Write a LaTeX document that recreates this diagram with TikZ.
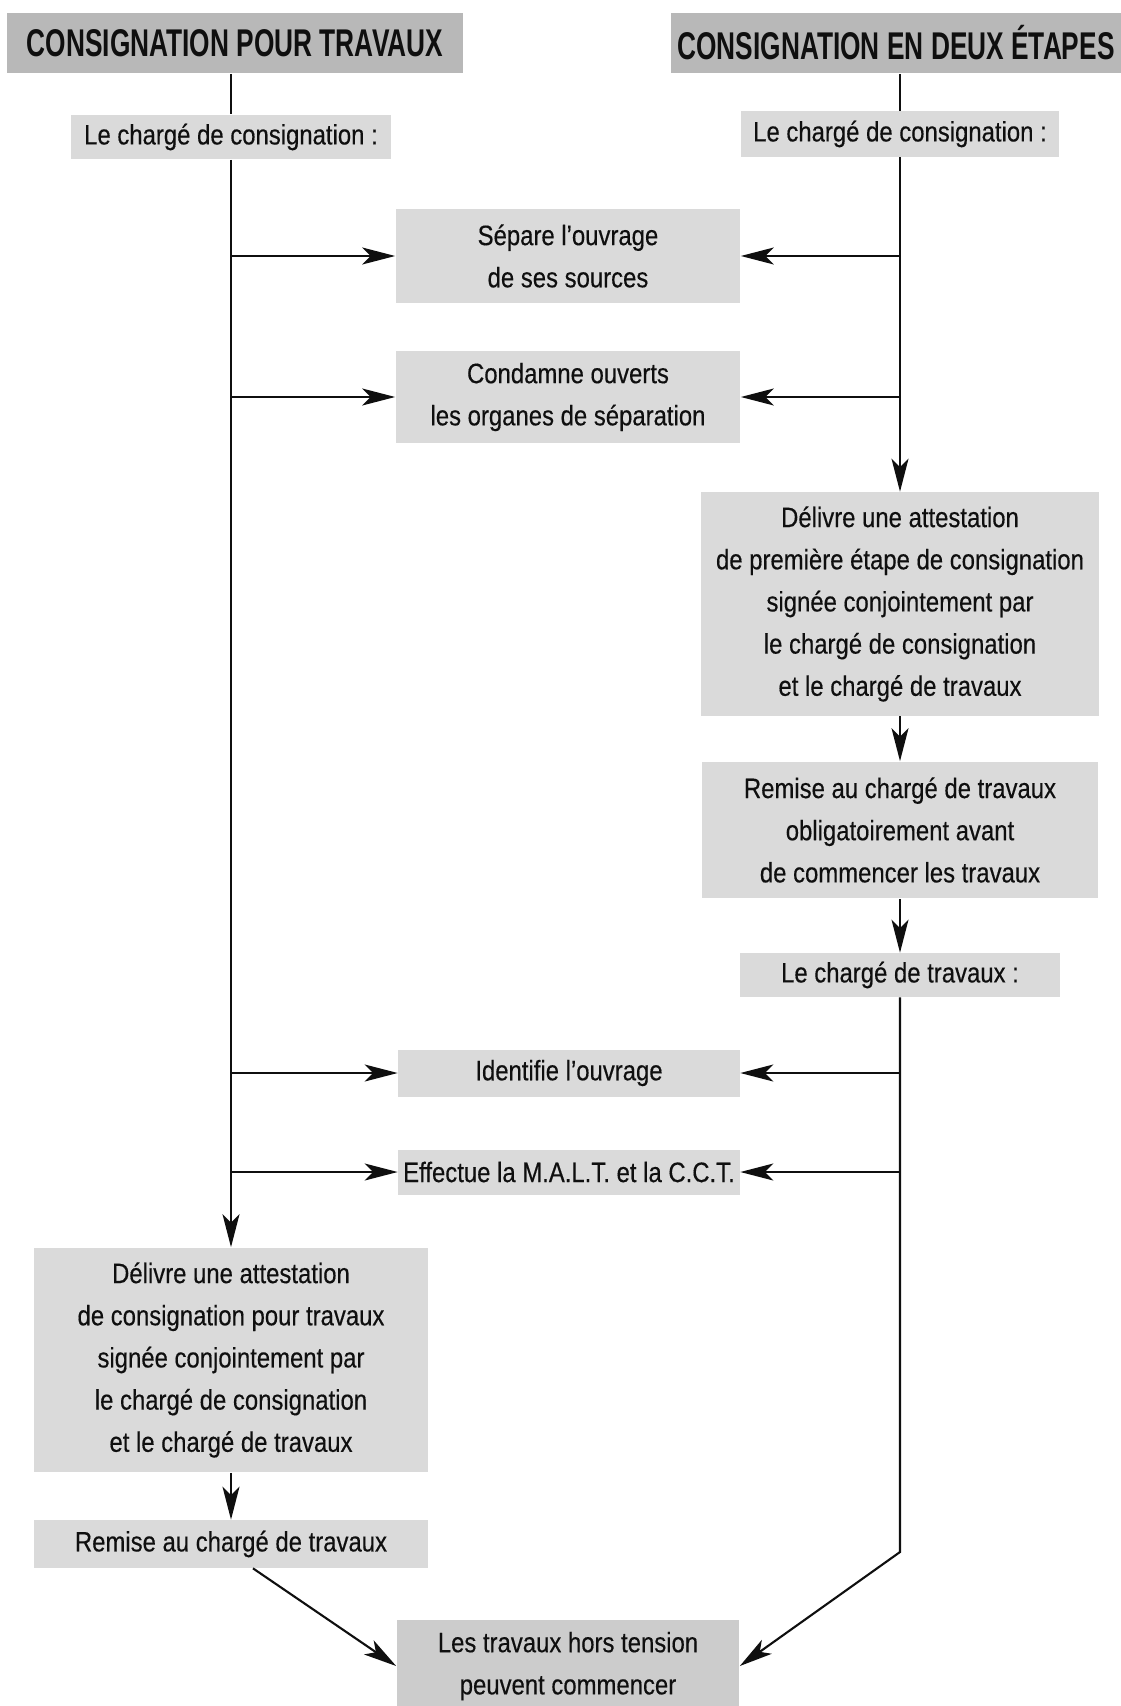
\documentclass[tikz,border=0pt]{standalone}
\usepackage{fontspec}
\setmainfont{Liberation Sans}[FakeStretch=0.85, FakeBold=0.35]
\newfontfamily\policetitre{Liberation Sans}[FakeStretch=0.68]
\usetikzlibrary{arrows.meta}
\definecolor{GrisBoite}{RGB}{218,218,218}
\definecolor{GrisTitre}{RGB}{184,184,184}
\definecolor{GrisFinal}{RGB}{204,204,204}
\definecolor{Encre}{RGB}{15,15,15}
\tikzset{
	boite/.style={fill=GrisBoite, inner sep=0pt, align=center, text=Encre,
		font=\fontsize{16}{24}\selectfont},
	titre/.style={fill=GrisTitre, inner sep=0pt, minimum height=1.22cm, text=Encre,
		font=\policetitre\bfseries\fontsize{22}{26}\selectfont},
	trait/.style={line width=1.2pt, draw=Encre},
	fleche/.style={trait, -{Stealth[length=6.6mm, width=3.4mm, inset=1.7mm]}}
}

\begin{document}
\begin{tikzpicture}[x=0.02cm, y=-0.02cm]
			\useasboundingbox (0,0) rectangle (1121,1706);
			% titres
			\node[titre, minimum width=9.12cm] (titreG) at (235,43) {CONSIGNATION POUR TRAVAUX};
			\node[titre, minimum width=9cm] (titreD) at (896,43) {CONSIGNATION EN DEUX ÉTAPES};
			% boites
			\node[boite, minimum width=6.4cm, minimum height=0.9cm] (consG) at (231,137) {Le chargé de consignation :};
			\node[boite, minimum width=6.36cm, minimum height=0.92cm] (consD) at (900,134) {Le chargé de consignation :};
			\node[boite, minimum width=6.9cm, minimum height=1.9cm] (separe) at (568,256) {Sépare l’ouvrage\\de ses sources};
			\node[boite, minimum width=6.9cm, minimum height=1.86cm] (condamne) at (568,397) {Condamne ouverts\\les organes de séparation};
			\node[boite, minimum width=7.98cm, minimum height=4.48cm] (delivreD) at (900,604) {Délivre une attestation\\de première étape de consignation\\signée conjointement par\\le chargé de consignation\\et le chargé de travaux};
			\node[boite, minimum width=7.94cm, minimum height=2.74cm] (remiseD) at (900,830) {Remise au chargé de travaux\\obligatoirement avant\\de commencer les travaux};
			\node[boite, minimum width=6.4cm, minimum height=0.88cm] (travD) at (900,975) {Le chargé de travaux :};
			\node[boite, minimum width=6.84cm, minimum height=0.94cm] (identifie) at (569,1073) {Identifie l’ouvrage};
			\node[boite, minimum width=6.84cm, minimum height=0.9cm] (effectue) at (569,1172) {Effectue la M.A.L.T. et la C.C.T.};
			\node[boite, minimum width=7.88cm, minimum height=4.5cm] (delivreG) at (231,1360) {Délivre une attestation\\de consignation pour travaux\\signée conjointement par\\le chargé de consignation\\et le chargé de travaux};
			\node[boite, minimum width=7.88cm, minimum height=0.96cm] (remiseG) at (231,1544) {Remise au chargé de travaux};
			\node[boite, fill=GrisFinal, minimum width=6.86cm, minimum height=1.84cm] (final) at (568,1666) {Les travaux hors tension\\peuvent commencer};
			% colonne gauche
			\draw[trait] (titreG.south -| consG.north) -- (consG.north);
			\draw[fleche] (consG.south) -- (delivreG.north);
			\foreach \cible in {separe, condamne, identifie, effectue}
				\draw[fleche] (consG.south |- \cible.west) -- (\cible.west);
			\draw[fleche] (delivreG.south) -- (remiseG.north);
			\draw[fleche] ([xshift=0.44cm]remiseG.south) -- (final.west);
			% colonne droite
			\draw[trait] (titreD.south -| consD.north) -- (consD.north);
			\draw[fleche] (consD.south) -- (delivreD.north);
			\foreach \cible in {separe, condamne, identifie, effectue}
				\draw[fleche] (consD.south |- \cible.east) -- (\cible.east);
			\draw[fleche] (delivreD.south) -- (remiseD.north);
			\draw[fleche] (remiseD.south) -- (travD.north);
			\coordinate (coude) at (900,1552);
			\draw[fleche] (travD.south) -- (coude) -- (final.east);
		\end{tikzpicture}
\end{document}
